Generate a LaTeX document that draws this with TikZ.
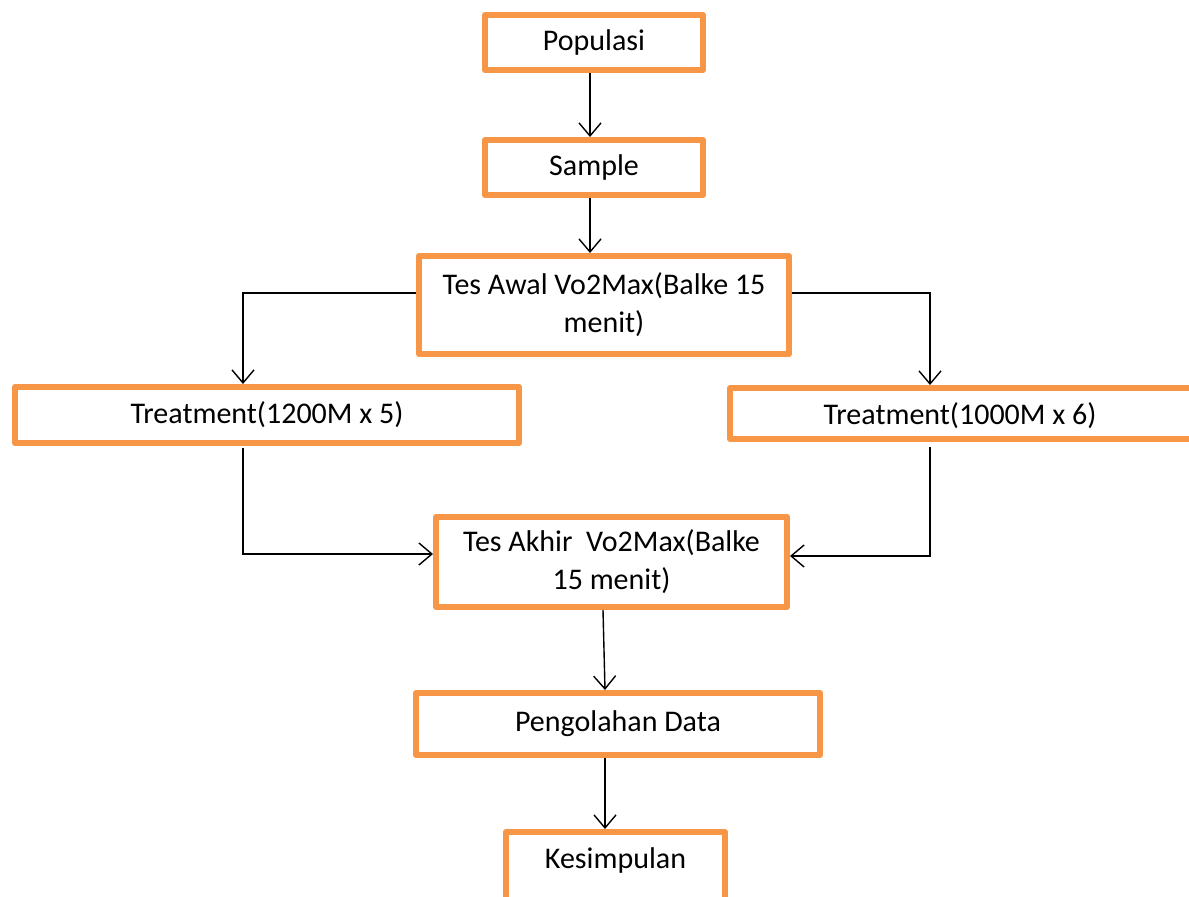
\documentclass[tikz,border=0pt]{standalone}
\usepackage{fontspec}
\setmainfont{Carlito}
\usetikzlibrary{arrows.meta,calc}
\definecolor{boxorange}{HTML}{F79646}
\begin{document}
\begin{tikzpicture}[x=1pt,y=-1pt,
  box/.style={draw=boxorange,line width=6pt,line join=round,rectangle,inner sep=0pt,
    font=\fontsize{30}{38}\selectfont,align=center},
  arr/.style={draw=black,line width=1.4pt,-{Straight Barb[length=13pt,width=22pt,line width=1.4pt]}},
  txt/.style={font=\fontsize{30}{38}\selectfont}]
\clip (0,0) rectangle (1189,897);
\fill[white] (0,0) rectangle (1189,897);
\node[box,minimum width=218pt,minimum height=55pt] (pop) at (594,42.5) {Populasi};
\node[box,minimum width=218pt,minimum height=55pt] (samp) at (594,167.5) {Sample};
\node[box,minimum width=370pt,minimum height=98pt] (awal) at (604,305) {Tes Awal Vo2Max(Balke 15\\menit)};
\node[box,minimum width=504pt,minimum height=56pt] (t1) at (267,415) {Treatment(1200M x 5)};
\node[box,minimum width=467pt,minimum height=51pt] (t2) at (963.5,413.5) {};
\node[txt] (t2txt) at (960,416) {Treatment(1000M x 6)};
\node[box,minimum width=351pt,minimum height=90pt] (akhir) at (611.5,562) {Tes Akhir\ \ Vo2Max(Balke\\15 menit)};
\node[box,minimum width=404pt,minimum height=62pt] (peng) at (618,724) {Pengolahan Data};
\node[box,minimum width=219pt,minimum height=80pt] (kes) at (615.5,872) {};
\node[txt] (kestxt) at (615.5,860) {Kesimpulan};
\draw[arr] ($(pop.south)+(-4,0)$) -- ($(samp.north)+(-4,0)$);
\draw[arr] ($(samp.south)+(-4,0)$) -- ($(awal.north)+(-14,0)$);
\draw[arr] ($(awal.west)+(0,-12)$) -| ($(t1.north)+(-24,0)$);
\draw[arr] ($(awal.east)+(0,-12)$) -| ($(t2.north)+(-33.5,0)$);
\draw[arr] ($(t1.south)+(-24,2)$) |- ($(akhir.west)+(0,-8)$);
\draw[arr] ($(t2.south)+(-33.5,5)$) |- ($(akhir.east)+(0,-6)$);
\draw[arr] ($(akhir.south)+(-8.5,0)$) -- ($(peng.north)+(-13,0)$);
\draw[arr] ($(peng.south)+(-13,0)$) -- ($(kes.north)+(-10.5,0)$);
\end{tikzpicture}
\end{document}
